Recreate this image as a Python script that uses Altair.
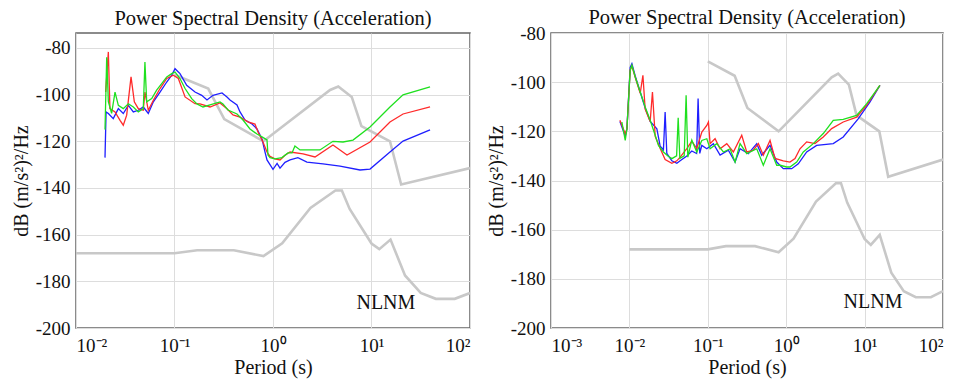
import altair as alt
import pandas as pd

# ---------------- reference noise models (Peterson) ----------------
NLNM_T = [0.01, 0.1, 0.17, 0.4, 0.8, 1.24, 2.4, 4.3, 5.0, 6.0, 10.0, 12.0, 15.6, 21.9, 31.6, 45.0, 70.0, 100.0]
NLNM_DB = [-168.0, -168.0, -166.7, -166.7, -169.2, -163.7, -148.6, -141.1, -141.1, -149.0, -163.8, -166.2, -162.1, -177.5, -185.0, -187.5, -187.5, -185.0]
NHNM_T = [0.1, 0.22, 0.32, 0.8, 3.8, 4.6, 6.3, 7.9, 15.4, 20.0, 100.0]
NHNM_DB = [-91.5, -97.4, -110.5, -120.0, -98.0, -96.5, -101.0, -113.5, -120.0, -138.5, -131.5]

# ---------------- left panel PSD curves ----------------
LG_T = [0.0197, 0.0205, 0.0213, 0.0230, 0.0249, 0.0269, 0.0302, 0.0340, 0.0382, 0.0429, 0.0482, 0.0501, 0.0522, 0.0587, 0.0659, 0.0741, 0.0834, 0.0937, 0.1012, 0.1137, 0.128, 0.1495, 0.169, 0.1946, 0.2293, 0.2897, 0.3105, 0.349, 0.431, 0.496, 0.584, 0.688, 0.773, 0.869, 0.889, 0.933, 1.047, 1.234, 1.419, 1.56, 1.67, 1.88, 3.0, 4.06, 5.14, 6.49, 9.66, 15.4, 20.9, 39.3]
LG_DB = [-115, -84, -103, -108, -98.9, -104.6, -106, -103.9, -105.3, -107.4, -106, -86, -103.1, -101.7, -98.1, -95.3, -92.4, -91, -90.3, -93.1, -97.4, -101.7, -104, -105.3, -104.4, -103.1, -104, -106.6, -108.3, -110.9, -114.7, -116.9, -118.1, -119.4, -125.9, -127, -127.5, -127, -125, -125, -122, -123.7, -123.7, -120, -120.3, -119.5, -113.9, -105.3, -100.1, -96.7]

LR_T = [0.0200, 0.0213, 0.0221, 0.0249, 0.0280, 0.0302, 0.0327, 0.0362, 0.0391, 0.0429, 0.0482, 0.0501, 0.0542, 0.0610, 0.0713, 0.0834, 0.0973, 0.1094, 0.128, 0.1615, 0.1814, 0.2293, 0.2897, 0.341, 0.3925, 0.4625, 0.557, 0.656, 0.705, 0.791, 0.869, 0.933, 1.047, 1.178, 1.324, 1.49, 2.02, 2.67, 4.06, 5.64, 9.66, 15.4, 20.9, 39.3]
LR_DB = [-98.9, -81.7, -106, -107.4, -111, -113.1, -108.8, -92.4, -103.1, -106, -106.7, -98.9, -106.7, -102.4, -97.4, -93.1, -91.7, -93.1, -101, -103.9, -104, -105.3, -103.6, -106.1, -108.7, -109.6, -111.7, -112.6, -116, -120.3, -124.6, -126.5, -127.5, -128, -126, -124.6, -125.4, -126.7, -121.6, -125.9, -120.3, -111.7, -108.3, -105.3]

LB_T = [0.0197, 0.0202, 0.0213, 0.0239, 0.0269, 0.0302, 0.0340, 0.0382, 0.0429, 0.0482, 0.0542, 0.0610, 0.0713, 0.0834, 0.0937, 0.1012, 0.1137, 0.133, 0.1615, 0.189, 0.2137, 0.246, 0.3034, 0.341, 0.366, 0.431, 0.4625, 0.520, 0.612, 0.688, 0.773, 0.830, 0.869, 1.0, 1.10, 1.178, 1.324, 1.49, 1.79, 2.21, 3.22, 4.79, 7.64, 9.66, 15.4, 20.9, 39.3]
LB_DB = [-127, -107.4, -108.1, -110.3, -106, -108.1, -104.6, -107.4, -106.7, -105.3, -108.1, -103.1, -98.9, -94.6, -91.7, -88.9, -91, -96, -98.9, -100.3, -102.3, -100.3, -99.3, -101, -102.3, -104.4, -107.4, -110.9, -112.6, -114.7, -119, -124.6, -128, -132, -129.5, -131.5, -129, -128, -127, -128.9, -129.7, -130.6, -132.3, -131.9, -124.6, -119.9, -115.1]

# ---------------- right panel PSD curves ----------------
RG_T = [0.00802, 0.00885, 0.0093, 0.01023, 0.01076, 0.01186, 0.01374, 0.01589, 0.01841, 0.02133, 0.02349, 0.02717, 0.0310, 0.0348, 0.0400, 0.0419, 0.0440, 0.0500, 0.0529, 0.0556, 0.06252, 0.0724, 0.08386, 0.0971, 0.107, 0.1302, 0.1581, 0.1922, 0.2227, 0.2579, 0.3137, 0.4209, 0.5107, 0.6219, 0.7568, 0.8339, 1.014, 1.117, 1.361, 1.652, 2.215, 2.97, 3.984, 5.338, 7.902, 10.59, 15.68]
RG_DB = [-116.2, -123.7, -118.9, -95.2, -93.1, -97.9, -104, -110.1, -115.5, -121.6, -125.7, -128.4, -130, -131.1, -130, -114.5, -131, -130, -105.3, -130.5, -123.6, -128.4, -123.7, -123, -127.1, -125, -128.4, -127.1, -132.5, -125, -129.1, -127.1, -133.8, -127.1, -133.8, -133.8, -134.5, -134.5, -132.5, -128.4, -125, -120.9, -115.5, -115.1, -113.5, -108.8, -101.3]

RR_T = [0.00757, 0.00885, 0.0093, 0.01023, 0.01076, 0.01186, 0.01374, 0.01487, 0.01589, 0.01841, 0.01968, 0.02133, 0.0247, 0.02856, 0.0348, 0.04027, 0.0444, 0.054, 0.0625, 0.0724, 0.0839, 0.0971, 0.1018, 0.107, 0.1238, 0.1434, 0.1746, 0.2118, 0.2709, 0.3137, 0.381, 0.4412, 0.5107, 0.6219, 0.72, 0.9184, 1.117, 1.295, 1.499, 1.825, 2.327, 2.97, 3.802, 5.338, 7.902, 10.59, 15.68]
RR_DB = [-115.5, -121, -119, -95, -93.5, -98, -104.5, -97.2, -111, -116, -104, -122, -127, -131.5, -133, -132, -130.5, -127, -124, -127, -120.3, -117.6, -116.2, -125, -123, -127.1, -125, -128.4, -121.6, -128.4, -127.7, -125, -129.7, -123.7, -131, -132, -132.5, -131.1, -127.1, -124.3, -125, -122.3, -118.9, -116.2, -114.2, -109.4, -101.3]

RB_T = [0.00757, 0.00885, 0.0093, 0.01023, 0.01076, 0.01186, 0.01374, 0.01589, 0.01841, 0.0224, 0.02468, 0.02717, 0.02856, 0.0300, 0.0348, 0.0403, 0.0444, 0.0540, 0.0625, 0.0720, 0.0752, 0.0790, 0.0839, 0.0971, 0.1178, 0.1434, 0.1829, 0.2227, 0.2579, 0.329, 0.4209, 0.4876, 0.6219, 0.7568, 0.9184, 1.175, 1.426, 1.825, 2.446, 3.984, 5.338, 8.277, 11.68, 15.68]
RB_DB = [-116, -122, -119, -94, -92.5, -97.5, -104, -110.5, -116, -119, -126, -127.5, -112.1, -129, -132, -133, -132, -130, -128, -129, -106.7, -129, -125.7, -127.1, -125, -129.7, -127.7, -132.5, -127.1, -129.1, -125, -129.7, -125.7, -132.5, -135.2, -135.2, -133.2, -128.4, -125.7, -125, -122.3, -114.9, -108.1, -101.3]

# ---------------- labels / ticks ----------------
TITLE = "Power Spectral Density (Acceleration)"
X_TITLE = "Period (s)"
Y_TITLE = "dB (m/s²)²/Hz"
Y_TICKS = [-200, -180, -160, -140, -120, -100, -80]
LEFT_X_TICKS = [0.01, 0.1, 1, 10, 100]
RIGHT_X_TICKS = [0.001, 0.01, 0.1, 1, 10, 100]
X_TICK_LABELS = {0.001: "10⁻³", 0.01: "10⁻²", 0.1: "10⁻¹", 1: "10⁰", 10: "10¹", 100: "10²"}
NLNM_TEXT = ["NLNM"]
LEFT_TEXT_T = [14.0]
RIGHT_TEXT_T = [12.8]
TEXT_DB = [-189.5]

FONT = "Liberation Serif"
GREY = "#c8c8c8"
COLORS = {"blue": "#1f1fff", "red": "#ff2a2a", "green": "#1fe01f"}


def df(t, db):
    return pd.DataFrame({"period": t, "db": db})


def label_expr():
    parts = []
    for v in sorted(X_TICK_LABELS):
        parts.append(f"datum.value < {v * 3.0} ? '{X_TICK_LABELS[v]}' : ")
    return "".join(parts) + "''"


Y_LABEL_EXPR = "datum.value < 0 ? '-' + format(-datum.value, 'd') : format(datum.value, 'd')"


def panel(xdomain, xticks, ydomain, blue, red, green, text_t, width, title_dy):
    x = alt.X("period:Q",
              scale=alt.Scale(type="log", domain=xdomain, nice=False),
              axis=alt.Axis(values=xticks, labelExpr=label_expr(), title=X_TITLE,
                            labelPadding=8, titlePadding=2))
    y = alt.Y("db:Q",
              scale=alt.Scale(domain=ydomain, nice=False, zero=False),
              axis=alt.Axis(values=Y_TICKS, labelExpr=Y_LABEL_EXPR, title=Y_TITLE,
                            labelPadding=6, titlePadding=4))
    layers = []
    for t, d in [(NLNM_T, NLNM_DB), (NHNM_T, NHNM_DB)]:
        layers.append(alt.Chart(df(t, d)).mark_line(color=GREY, strokeWidth=2.6, clip=True)
                      .encode(x=x, y=y, order="period:Q"))
    for (t, d), c in [(blue, "blue"), (red, "red"), (green, "green")]:
        layers.append(alt.Chart(df(t, d)).mark_line(color=COLORS[c], strokeWidth=1.3, clip=True)
                      .encode(x=x, y=y, order="period:Q"))
    tdf = pd.DataFrame({"period": text_t, "db": TEXT_DB, "label": NLNM_TEXT})
    layers.append(alt.Chart(tdf).mark_text(font=FONT, fontSize=20, color="#111",
                                           align="center", baseline="middle")
                  .encode(x=x, y=y, text="label:N"))
    return alt.layer(*layers).properties(
        width=width, height=295,
        title=alt.TitleParams(TITLE, font=FONT, fontSize=20.5, fontWeight="normal",
                              color="#111", offset=4, frame="group", dy=title_dy))


left = panel([0.01, 100], LEFT_X_TICKS, [-200, -73.6],
             (LB_T, LB_DB), (LR_T, LR_DB), (LG_T, LG_DB), LEFT_TEXT_T, 394, 0)
right = panel([0.001, 100], RIGHT_X_TICKS, [-200, -80],
              (RB_T, RB_DB), (RR_T, RR_DB), (RG_T, RG_DB), RIGHT_TEXT_T, 392, 8)

chart = alt.hconcat(left, right, spacing=81, bounds="flush").properties(
    padding={"left": 10, "top": 6, "right": 2, "bottom": 2},
    background="white"
).configure_view(
    stroke="#666666", strokeWidth=1.5
).configure_axis(
    labelFont=FONT, labelFontSize=19, labelColor="#111",
    titleFont=FONT, titleFontSize=20, titleFontWeight="normal", titleColor="#111",
    gridColor="#dddddd", gridWidth=1, ticks=False, domain=False
)

chart.save("out.html", embed_options={"renderer": "svg", "actions": False})
